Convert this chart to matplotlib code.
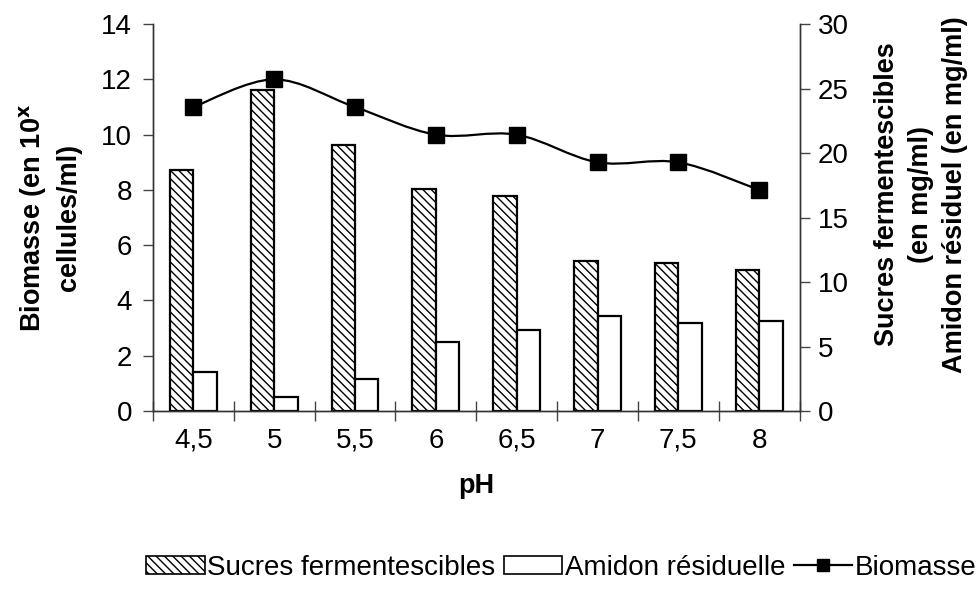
import matplotlib
matplotlib.use("Agg")
import matplotlib.pyplot as plt
from matplotlib.path import Path
from matplotlib.patches import PathPatch, Patch
from matplotlib.lines import Line2D

plt.rcParams['font.family'] = ['Liberation Sans', 'DejaVu Sans']
plt.rcParams['hatch.linewidth'] = 1.0

# data
ph_labels = ['4,5', '5', '5,5', '6', '6,5', '7', '7,5', '8']
sucres = [18.7, 24.9, 20.6, 17.2, 16.7, 11.65, 11.45, 10.9]   # right axis, mg/ml
amidon = [3.05, 1.05, 2.5, 5.35, 6.25, 7.35, 6.8, 7.0]        # right axis, mg/ml
biomasse = [11, 12, 11, 10, 10, 9, 9, 8]                      # left axis

fig = plt.figure(figsize=(9.8, 6.04), dpi=100)
ax = fig.add_axes([0.156, 0.3195, 0.66, 0.6405])
ax2 = ax.twinx()

x = [i + 0.5 for i in range(len(ph_labels))]
w = 0.29
ax2.bar([v - w / 2 for v in x], sucres, width=w, color='white', edgecolor='black',
        linewidth=1.6, hatch='\\\\\\\\')
ax2.bar([v + w / 2 for v in x], amidon, width=w, color='white', edgecolor='black',
        linewidth=1.6)

# smoothed line (Excel-like bezier through the points)
verts = [(x[0], biomasse[0])]
codes = [Path.MOVETO]
n = len(x)
for i in range(n - 1):
    p0 = (x[max(i - 1, 0)], biomasse[max(i - 1, 0)])
    p1 = (x[i], biomasse[i])
    p2 = (x[i + 1], biomasse[i + 1])
    p3 = (x[min(i + 2, n - 1)], biomasse[min(i + 2, n - 1)])
    c1 = (p1[0] + (p2[0] - p0[0]) / 6, p1[1] + (p2[1] - p0[1]) / 6)
    c2 = (p2[0] - (p3[0] - p1[0]) / 6, p2[1] - (p3[1] - p1[1]) / 6)
    verts += [c1, c2, p2]
    codes += [Path.CURVE4] * 3
ax.add_patch(PathPatch(Path(verts, codes), facecolor='none', edgecolor='black', lw=1.6))
ax.plot(x, biomasse, linestyle='none', marker='s', markersize=11.5, color='black')

ax.set_zorder(ax2.get_zorder() + 1)
ax.patch.set_visible(False)

ax.set_xlim(0, 8)
ax.set_ylim(0, 14)
ax2.set_ylim(0, 30)
ax.set_yticks(range(0, 15, 2))
ax2.set_yticks(range(0, 31, 5))
ax.set_xticks(range(0, 9))
ax.set_xticklabels([])
ax.set_xticks(x, minor=True)
ax.set_xticklabels(ph_labels, minor=True)
ax.tick_params(axis='x', which='major', direction='inout', length=14, width=1, color='#444444')
ax.tick_params(axis='x', which='minor', length=0, pad=12, labelsize=20)
ax.tick_params(axis='y', direction='out', length=7, width=1, color='#444444', labelsize=20, pad=8)
ax2.tick_params(axis='y', direction='out', length=7, width=1, color='#444444', labelsize=20, pad=6)

for a in (ax, ax2):
    a.spines['top'].set_visible(False)
    for s in ('left', 'right', 'bottom'):
        a.spines[s].set_linewidth(1.0)
        a.spines[s].set_color('#333333')

ax.set_xlabel('pH', fontsize=19.5, fontweight='bold', labelpad=14)
ax.set_ylabel('Biomasse (en 10$^\\mathbf{x}$\ncellules/ml)', fontsize=19.5, fontweight='bold',
              labelpad=14, linespacing=1.35)
ax2.set_ylabel('Sucres fermentescibles\n(en mg/ml)\nAmidon résiduel (en mg/ml)',
               fontsize=19.5, fontweight='bold', rotation=90, labelpad=18, linespacing=1.4,
               y=0.56)

handles = [Patch(facecolor='white', edgecolor='black', hatch='\\\\\\\\', lw=1.2),
           Patch(facecolor='white', edgecolor='black', lw=1.2),
           Line2D([], [], color='black', lw=1.6, marker='s', markersize=9)]
fig.legend(handles, ['Sucres fermentescibles', 'Amidon résiduelle', 'Biomasse'],
           loc='center', bbox_to_anchor=(0.573, 0.06), ncol=3, frameon=False,
           fontsize=20, handlelength=2.1, handleheight=0.6, handletextpad=0.1,
           columnspacing=0.3, borderpad=0.1)

fig.savefig('out.png', dpi=100)
